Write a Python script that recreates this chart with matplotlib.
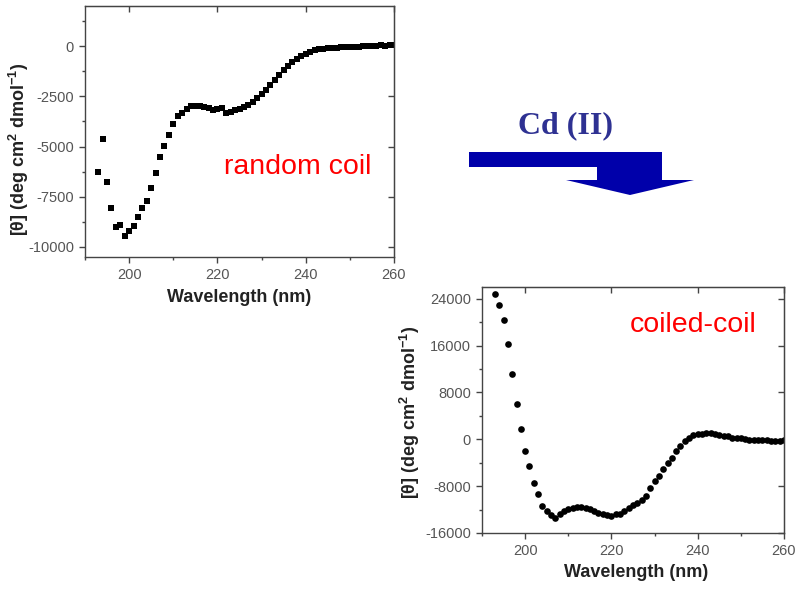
import matplotlib
matplotlib.use("Agg")
import matplotlib.pyplot as plt
from matplotlib.patches import Polygon
from matplotlib.ticker import MultipleLocator

plt.rcParams['font.family'] = ['Liberation Sans', 'DejaVu Sans']
plt.rcParams['mathtext.default'] = 'regular'
plt.rcParams['axes.unicode_minus'] = False

# wavelength (nm), 1 nm steps
wl = list(range(193, 261))

# random coil (no metal)
theta_free = [-6250, -4630, -6780, -8080, -8990, -8890, -9450, -9190, -8960, -8490,
              -8040, -7730, -7080, -6340, -5540, -4960, -4400, -3880, -3480, -3320,
              -3150, -3000, -2960, -2980, -3020, -3100, -3180, -3150, -3080, -3320,
              -3280, -3200, -3120, -3030, -2920, -2780, -2600, -2400, -2170, -1930,
              -1680, -1430, -1190, -980, -800, -620, -490, -380, -280, -200,
              -150, -120, -100, -90, -70, -60, -50, -50, -30, -20,
              0, -10, 10, 20, 40, 30, 60, 70]

# coiled-coil (with Cd(II))
theta_cd = [24800, 22860, 20350, 16250, 11230, 6100, 1780, -1930, -4600, -7450,
            -9390, -11440, -12240, -12920, -13490, -12800, -12240, -11900, -11680, -11560,
            -11500, -11680, -11900, -12240, -12530, -12800, -12920, -13040, -12800, -12800,
            -12300, -11680, -11300, -10820, -10300, -9670, -8250, -7110, -6250, -5110,
            -3980, -3120, -1980, -1130, -270, 290, 700, 870, 980, 1000,
            1050, 870, 800, 580, 500, 290, 250, 200, 100, -150,
            -150, -200, -200, -200, -250, -250, -250, -200]

ylabel = r'[θ] (deg cm$^2$ dmol$^{-1}$)'
tick_col = '#555555'
spine_col = '#444444'

W, H = 800, 590
fig = plt.figure(figsize=(8, 5.9), dpi=100)


def px_axes(l, t, r, b):
    return fig.add_axes([l / W, 1 - b / H, (r - l) / W, (b - t) / H])


def style(ax, ymajor, yminor, xlab_pos, ylab_pos):
    ax.set_xlim(190, 260)
    ax.xaxis.set_major_locator(MultipleLocator(20))
    ax.xaxis.set_minor_locator(MultipleLocator(10))
    ax.yaxis.set_major_locator(MultipleLocator(ymajor))
    ax.yaxis.set_minor_locator(MultipleLocator(yminor))
    for s in ax.spines.values():
        s.set_color(spine_col)
        s.set_linewidth(1)
    ax.tick_params(which='major', direction='out', length=4, width=1,
                   color=spine_col, labelcolor=tick_col, labelsize=10.5, pad=4)
    ax.tick_params(which='minor', direction='out', length=2.5, width=1, color=spine_col)
    # mirrored inward ticks on top/right
    top = ax.secondary_xaxis('top')
    top.xaxis.set_major_locator(MultipleLocator(20))
    top.tick_params(direction='in', length=4, width=1, color=spine_col, labeltop=False)
    top.spines['top'].set_color(spine_col)
    right = ax.secondary_yaxis('right')
    right.yaxis.set_major_locator(MultipleLocator(ymajor))
    right.tick_params(direction='in', length=4, width=1, color=spine_col, labelright=False)
    right.spines['right'].set_color(spine_col)
    ax.set_xlabel('Wavelength (nm)', fontsize=13, fontweight='bold', color='#222222',
                  va='center')
    ax.set_ylabel(ylabel, fontsize=13, fontweight='bold', color='#222222', va='center')
    ax.xaxis.set_label_coords(*xlab_pos)
    ax.yaxis.set_label_coords(*ylab_pos)


# top-left: random coil
ax1 = px_axes(85, 6, 394, 257)
ax1.plot(wl, theta_free, 's', color='black', ms=4.8, mew=0)
ax1.set_ylim(-10500, 2000)
style(ax1, 2500, 1250, (0.50, -0.163), (-0.214, 0.43))
ax1.text(0.45, 0.36, 'random coil', transform=ax1.transAxes, color='#ff0000',
         fontsize=20.5, ha='left', va='center')

# bottom-right: coiled-coil
ax2 = px_axes(482, 287, 784, 533)
ax2.plot(wl, theta_cd, 'o', color='black', ms=4.8, mew=0)
ax2.set_ylim(-16000, 26000)
style(ax2, 8000, 4000, (0.51, -0.159), (-0.238, 0.49))
ax2.text(0.49, 0.845, 'coiled-coil', transform=ax2.transAxes, color='#ff0000',
         fontsize=20.5, ha='left', va='center')

# bent arrow with Cd(II) label
arrow_px = [(469, 152), (662, 152), (662, 180), (694, 180), (630, 195),
            (566, 180), (597, 180), (597, 167), (469, 167)]
arrow = Polygon([(x / W, 1 - y / H) for x, y in arrow_px], closed=True,
                transform=fig.transFigure, facecolor='#0000aa', edgecolor='none')
fig.add_artist(arrow)
fig.text(565 / W, 1 - 126 / H, 'Cd (II)', family=['Liberation Serif', 'DejaVu Serif'],
         fontweight='bold', fontsize=23, color='#2e3192', ha='center', va='center')

fig.savefig('out.png', dpi=100)
